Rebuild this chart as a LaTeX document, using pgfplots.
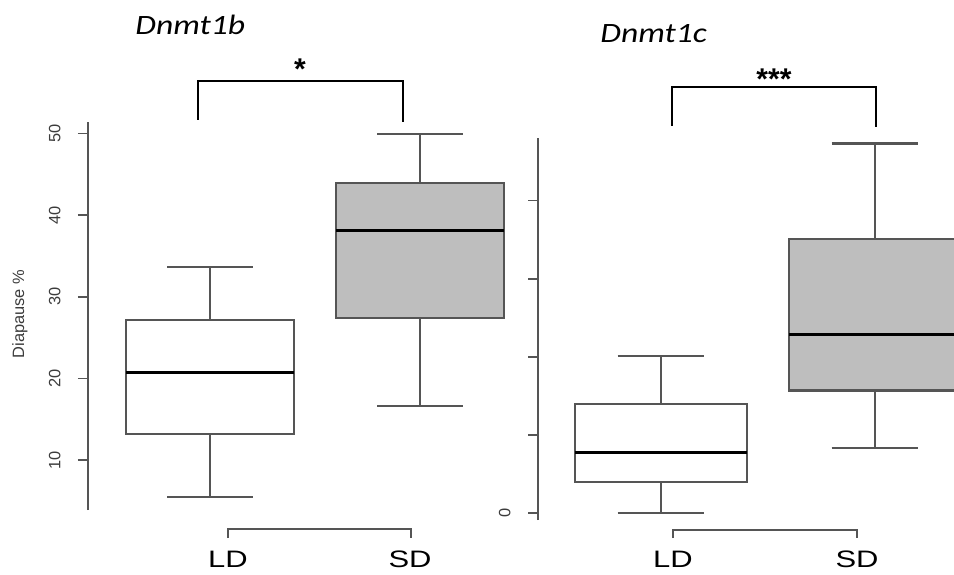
\documentclass[border=0pt]{standalone}
\usepackage{pgfplots}
\pgfplotsset{compat=1.18}
\usepgfplotslibrary{statistics}
\usepackage{fontspec}
\setmainfont{Liberation Sans}
\newfontfamily\labfont[FakeStretch=1.3]{Liberation Sans}
\newfontfamily\titfont[FakeStretch=1.2]{Carlito}
\definecolor{ln}{RGB}{85,85,85}
\definecolor{tx}{RGB}{60,60,60}
\definecolor{boxgray}{RGB}{190,190,190}

\pgfplotsset{
  rbox/.style={
    scale only axis, clip=false,
    axis x line=none, axis y line=left,
    axis line style={-, ln, line width=0.8pt},
    ytick style={ln, line width=0.8pt},
    tick align=outside, major tick length=5pt,
    /pgf/number format/assume math mode=true,
    yticklabel style={rotate=90, anchor=south, inner xsep=0pt, inner ysep=8.5pt,
      font=\fontsize{8.2}{9}\selectfont, text=tx},
    boxplot/draw direction=y,
    boxplot/every median/.style={draw=black, line width=1.6pt},
  },
  rb/.style={draw=ln, line width=1.05pt, solid, mark=none},
}

\begin{document}
\begin{tikzpicture}

% ---------------- Dnmt1b ----------------
\begin{axis}[rbox,
  at={(44pt,32pt)}, anchor=south west,
  width=218.5pt, height=194pt,
  xmin=0.41905, xmax=2.5, ymin=3.88, ymax=51.4,
  ytick={10,20,30,40,50}]
\addplot[rb, fill=white, boxplot prepared={
  lower whisker=5.5, lower quartile=13.2, median=20.7,
  upper quartile=27.1, upper whisker=33.6,
  draw position=1, box extend=0.8, whisker extend=0.405}] coordinates {};
\addplot[rb, fill=boxgray, boxplot prepared={
  lower whisker=16.65, lower quartile=27.35, median=38.1,
  upper quartile=43.95, upper whisker=49.9,
  draw position=2, box extend=0.8, whisker extend=0.405}] coordinates {};
\end{axis}

% ---------------- Dnmt1c ----------------
\begin{axis}[rbox,
  at={(269pt,27pt)}, anchor=south west,
  width=211.5pt, height=191pt,
  xmin=0.42523, xmax=2.4019, ymin=-0.86, ymax=48.0,
  ytick={0,10,20,30,40}, yticklabels={0,,,,}]
\addplot[rb, fill=white, boxplot prepared={
  lower whisker=0.05, lower quartile=4.0, median=7.8,
  upper quartile=14.0, upper whisker=20.1,
  draw position=1, box extend=0.8, whisker extend=0.405}] coordinates {};
\addplot[rb, fill=boxgray, boxplot prepared={
  lower whisker=8.4, lower quartile=15.7, median=22.9,
  upper quartile=35.1, upper whisker=47.3,
  draw position=2, box extend=0.8, whisker extend=0.405}] coordinates {};
\end{axis}

% ---------------- annotations (pixel grid) ----------------
\begin{scope}[x=0.5pt, y=-0.5pt, shift={(0pt,287pt)}]
  \node[rotate=90, text=tx, inner sep=0pt] at (20,314) {\fontsize{8.2}{9}\selectfont Diapause \%};

  \node[anchor=base west, inner sep=0pt] at (135,35)
    {\titfont\itshape\fontsize{14}{16}\selectfont Dnmt1b};
  \node[anchor=base west, inner sep=0pt] at (600,42.7)
    {\titfont\itshape\fontsize{14}{16}\selectfont Dnmt1c};

  \draw[black, line width=1.25pt] (198,120) -- (198,81) -- (403,81) -- (403,122);
  \draw[black, line width=1.25pt] (672,126) -- (672,87) -- (876,87) -- (876,127);
  \node[anchor=base, inner sep=0pt] at (300,80) {\fontsize{15}{17}\selectfont\bfseries *};
  \node[anchor=base, inner sep=0pt] at (774,89.5) {\fontsize{15}{17}\selectfont\bfseries ***};

  \draw[ln, line width=0.8pt] (228,538) -- (228,529) -- (411,529) -- (411,538);
  \draw[ln, line width=0.8pt] (673,538) -- (673,530) -- (857,530) -- (857,538);
  \node[anchor=base, inner sep=0pt] at (228,567) {\labfont\fontsize{11.9}{14}\selectfont LD};
  \node[anchor=base, inner sep=0pt] at (410,567) {\labfont\fontsize{11.9}{14}\selectfont SD};
  \node[anchor=base, inner sep=0pt] at (673,567) {\labfont\fontsize{11.9}{14}\selectfont LD};
  \node[anchor=base, inner sep=0pt] at (857,567) {\labfont\fontsize{11.9}{14}\selectfont SD};
\end{scope}

\pgfresetboundingbox
\path[use as bounding box] (0pt,0pt) rectangle (477pt,287pt);
\end{tikzpicture}
\end{document}
